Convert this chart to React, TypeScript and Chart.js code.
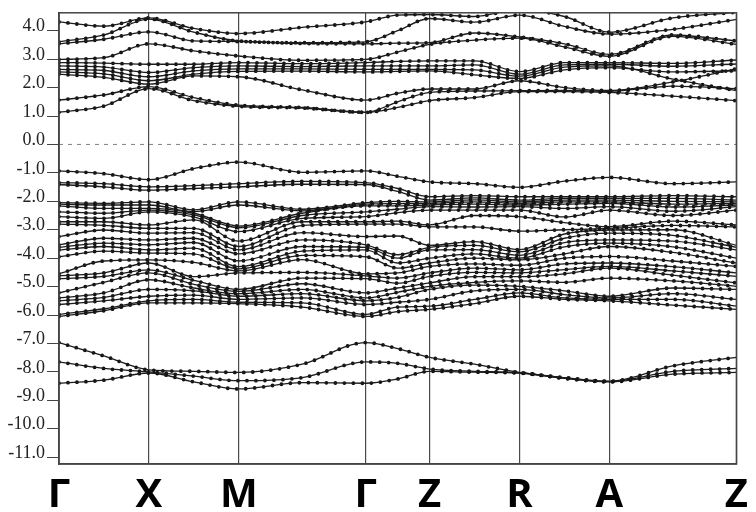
import React, { useEffect, useRef } from "react";
import { Chart, registerables } from "chart.js";

Chart.register(...registerables);

// Position along the k-path Γ–X–M–Γ–Z–R–A–Z: every high-symmetry point plus each segment midpoint.
const K_PATH = [0, 0.5, 1, 1.5, 2, 2.707, 3.414, 3.769, 4.124, 4.624, 5.124, 5.624, 6.124, 6.831, 7.538];
const SYM_POINTS = [0, 1, 2, 3.414, 4.124, 5.124, 6.124, 7.538];
const SYM_LABELS = ["Γ", "X", "M", "Γ", "Z", "R", "A", "Z"];
const ENERGY_TICKS = [4, 3, 2, 1, 0, -1, -2, -3, -4, -5, -6, -7, -8, -9, -10, -11];
const E_MIN = -11.24;
const E_MAX = 4.63;

// Conduction bands (eV), one row per band, sampled at K_PATH.
const CONDUCTION = [
  [4.31, 4.16, 4.45, 4.08, 3.9, 4.12, 4.31, 4.55, 4.57, 4.5, 4.75, 4.5, 3.95, 4.45, 4.65],
  [3.61, 3.85, 4.41, 3.95, 3.64, 3.58, 3.61, 4.0, 4.43, 4.3, 4.55, 4.15, 3.88, 4.05, 4.4],
  [3.54, 3.7, 3.96, 3.64, 3.62, 3.55, 3.54, 3.56, 3.58, 3.92, 3.78, 3.54, 3.17, 3.85, 3.64],
  [2.99, 3.05, 3.54, 3.29, 3.11, 2.96, 2.99, 3.25, 3.52, 3.67, 3.74, 3.43, 3.1, 3.8, 3.52],
  [2.88, 2.86, 2.82, 2.82, 2.88, 2.84, 2.88, 2.92, 2.94, 2.94, 2.56, 2.88, 2.88, 2.85, 2.97],
  [2.76, 2.72, 2.53, 2.7, 2.76, 2.74, 2.76, 2.76, 2.76, 2.8, 2.47, 2.8, 2.82, 2.75, 2.83],
  [2.64, 2.6, 2.38, 2.59, 2.66, 2.66, 2.64, 2.64, 2.64, 2.62, 2.4, 2.72, 2.76, 2.3, 1.89],
  [2.55, 2.48, 2.24, 2.47, 2.57, 2.58, 2.55, 2.57, 2.59, 2.45, 2.32, 2.62, 2.7, 2.55, 2.59],
  [2.47, 2.36, 2.12, 2.41, 2.38, 1.92, 1.56, 1.8, 1.95, 1.95, 2.24, 2.0, 1.9, 2.2, 2.66],
  [1.56, 1.74, 2.03, 1.65, 1.38, 1.3, 1.13, 1.5, 1.83, 1.88, 1.89, 1.9, 1.87, 2.05, 1.96],
  [1.13, 1.35, 1.96, 1.54, 1.34, 1.28, 1.13, 1.3, 1.54, 1.65, 1.86, 1.86, 1.83, 1.7, 1.54],
];

// Valence bands (eV).
const VALENCE = [
  [-0.93, -1.03, -1.24, -0.85, -0.62, -0.98, -0.93, -1.12, -1.32, -1.38, -1.51, -1.29, -1.16, -1.38, -1.32],
  [-1.34, -1.38, -1.49, -1.45, -1.38, -1.3, -1.34, -1.55, -1.84, -1.8, -1.84, -1.84, -1.84, -1.8, -1.84],
  [-1.41, -1.49, -1.61, -1.55, -1.49, -1.4, -1.41, -1.65, -1.96, -1.88, -1.96, -1.9, -1.9, -1.9, -1.96],
  [-2.05, -2.07, -2.02, -2.3, -2.02, -2.28, -2.05, -2.0, -2.02, -1.95, -2.02, -1.96, -1.96, -2.0, -2.02],
  [-2.1, -2.13, -2.13, -2.36, -2.13, -2.34, -2.1, -2.08, -2.07, -2.02, -2.07, -2.02, -2.02, -2.1, -2.07],
  [-2.16, -2.25, -2.25, -2.42, -2.87, -2.42, -2.16, -2.16, -2.13, -2.1, -2.13, -2.1, -2.07, -2.2, -2.13],
  [-2.37, -2.42, -2.31, -2.48, -2.93, -2.5, -2.37, -2.28, -2.19, -2.2, -2.19, -2.25, -2.19, -2.35, -2.19],
  [-2.54, -2.6, -2.37, -2.55, -3.07, -2.6, -2.54, -2.4, -2.31, -2.31, -2.31, -2.55, -2.31, -2.5, -2.31],
  [-2.72, -2.72, -2.83, -2.65, -3.4, -2.72, -2.72, -2.7, -2.83, -2.5, -2.54, -2.75, -2.89, -2.7, -2.83],
  [-2.8, -2.85, -2.95, -2.95, -3.59, -2.85, -2.8, -2.8, -2.9, -2.9, -3.05, -3.0, -2.95, -2.85, -2.9],
  [-3.24, -3.01, -3.12, -3.1, -3.71, -3.1, -3.24, -3.22, -3.55, -3.42, -3.7, -3.15, -3.01, -3.0, -3.55],
  [-3.53, -3.3, -3.36, -3.3, -3.85, -3.36, -3.53, -3.88, -3.62, -3.55, -3.78, -3.3, -3.12, -3.2, -3.62],
  [-3.62, -3.47, -3.53, -3.45, -4.1, -3.59, -3.62, -4.0, -3.71, -3.7, -3.9, -3.45, -3.36, -3.4, -3.71],
  [-3.71, -3.59, -3.71, -3.65, -4.3, -3.75, -3.71, -4.17, -4.0, -3.85, -4.0, -3.6, -3.47, -3.6, -4.0],
  [-3.95, -3.75, -3.82, -3.85, -4.38, -3.9, -3.95, -4.35, -4.17, -4.0, -4.06, -3.85, -3.59, -3.8, -4.17],
  [-4.55, -4.1, -4.06, -4.15, -4.45, -4.05, -4.55, -4.52, -4.29, -4.2, -4.25, -4.0, -3.94, -4.1, -4.29],
  [-4.62, -4.52, -4.17, -4.65, -4.52, -4.5, -4.62, -4.7, -4.52, -4.35, -4.41, -4.2, -4.17, -4.3, -4.52],
  [-4.72, -4.64, -4.41, -4.78, -5.1, -4.7, -4.72, -4.88, -4.64, -4.5, -4.52, -4.4, -4.29, -4.45, -4.64],
  [-5.22, -4.85, -4.52, -4.92, -5.17, -4.9, -5.22, -5.05, -4.87, -4.65, -4.65, -4.55, -4.35, -4.6, -4.87],
  [-5.4, -5.22, -4.76, -5.05, -5.25, -5.1, -5.4, -5.2, -4.99, -4.85, -4.8, -4.85, -4.7, -4.8, -4.99],
  [-5.5, -5.38, -5.1, -5.15, -5.34, -5.25, -5.5, -5.38, -5.1, -4.95, -4.99, -5.15, -5.34, -5.05, -5.1],
  [-5.63, -5.5, -5.34, -5.3, -5.45, -5.4, -5.63, -5.55, -5.45, -5.15, -5.1, -5.28, -5.4, -5.25, -5.45],
  [-5.98, -5.78, -5.5, -5.45, -5.55, -5.57, -5.98, -5.72, -5.69, -5.45, -5.22, -5.4, -5.45, -5.45, -5.69],
  [-6.05, -5.85, -5.57, -5.57, -5.6, -5.72, -6.05, -5.88, -5.8, -5.6, -5.34, -5.45, -5.5, -5.65, -5.8],
];

// Lowest occupied group (eV).
const LOWER = [
  [-6.97, -7.44, -7.93, -7.98, -8.02, -7.73, -6.97, -7.18, -7.49, -7.73, -8.02, -8.2, -8.33, -7.79, -7.49],
  [-7.65, -7.88, -8.0, -8.15, -8.31, -8.2, -7.65, -7.7, -7.9, -7.98, -8.03, -8.22, -8.34, -7.98, -7.88],
  [-8.4, -8.29, -8.04, -8.35, -8.6, -8.38, -8.4, -8.25, -7.98, -8.01, -8.04, -8.23, -8.35, -8.08, -8.02],
];

const BAND_COLOR = "#1c1c1c";
const DOT_COLOR = "#111111";
const AXIS_COLOR = "#444444";

const framePlugin = {
  id: "frame",
  afterDraw(chart: any) {
    const { ctx, chartArea } = chart;
    ctx.save();
    ctx.strokeStyle = AXIS_COLOR;
    ctx.lineWidth = 1.5;
    ctx.strokeRect(chartArea.left, chartArea.top, chartArea.right - chartArea.left, chartArea.bottom - chartArea.top);
    ctx.restore();
  },
};

function bandPoints(values: number[]) {
  return K_PATH.map((k, i) => ({ x: k, y: values[i] }));
}

// Each band is stroked twice along the same curve: a thin solid line, then a row of round dots.
function bandDatasets(values: number[]) {
  const common = {
    data: bandPoints(values),
    pointRadius: 0,
    pointHoverRadius: 0,
    cubicInterpolationMode: "monotone" as const,
    fill: false,
  };
  return [
    { ...common, borderColor: BAND_COLOR, borderWidth: 1.3 },
    {
      ...common,
      borderColor: DOT_COLOR,
      borderWidth: 3.8,
      borderDash: [0, 9],
      borderCapStyle: "round" as const,
    },
  ];
}

export default function App() {
  const canvasRef = useRef<HTMLCanvasElement | null>(null);

  useEffect(() => {
    if (!canvasRef.current) return;
    const datasets: any[] = [
      {
        data: [
          { x: K_PATH[0], y: 0 },
          { x: K_PATH[K_PATH.length - 1], y: 0 },
        ],
        borderColor: "#808080",
        borderWidth: 1,
        borderDash: [4, 5],
        pointRadius: 0,
        fill: false,
      },
      ...CONDUCTION.flatMap(bandDatasets),
      ...VALENCE.flatMap(bandDatasets),
      ...LOWER.flatMap(bandDatasets),
    ];

    const chart = new Chart(canvasRef.current, {
      type: "line",
      data: { datasets },
      plugins: [framePlugin],
      options: {
        responsive: false,
        animation: false,
        devicePixelRatio: 1,
        events: [],
        layout: { padding: { top: 12, right: 17, left: 0, bottom: 0 } },
        plugins: { legend: { display: false }, tooltip: { enabled: false } },
        scales: {
          x: {
            type: "linear",
            min: K_PATH[0],
            max: K_PATH[K_PATH.length - 1],
            afterBuildTicks: (scale: any) => {
              scale.ticks = SYM_POINTS.map((v) => ({ value: v }));
            },
            afterFit: (scale: any) => {
              scale.height = 48;
            },
            ticks: {
              autoSkip: false,
              maxRotation: 0,
              padding: 8,
              color: "#000",
              font: { family: "'Open Sans'", size: 40, weight: "bold" },
              callback: (_v: any, i: number) => SYM_LABELS[i],
            },
            grid: { color: "#4a4a4a", lineWidth: 1.2, drawTicks: false },
            border: { color: AXIS_COLOR, width: 1.5 },
          },
          y: {
            type: "linear",
            min: E_MIN,
            max: E_MAX,
            afterBuildTicks: (scale: any) => {
              scale.ticks = ENERGY_TICKS.map((v) => ({ value: v }));
            },
            afterFit: (scale: any) => {
              scale.width = 59;
            },
            ticks: {
              padding: 2,
              labelOffset: -4,
              color: "#222",
              font: { family: "'Liberation Serif'", size: 18 },
              callback: (v: any) => Number(v).toFixed(1),
            },
            grid: { drawOnChartArea: false, drawTicks: true, tickLength: 12, color: AXIS_COLOR },
            border: { color: AXIS_COLOR, width: 1.5 },
          },
        },
      } as any,
    });
    return () => chart.destroy();
  }, []);

  return (
    <div style={{ position: "absolute", left: 0, top: 0, width: 756, height: 512, background: "#fff" }}>
      <canvas ref={canvasRef} width={756} height={512} style={{ width: 756, height: 512 }} />
    </div>
  );
}
